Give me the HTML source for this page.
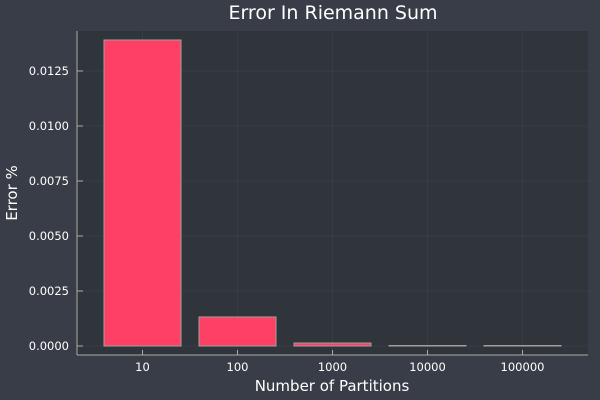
<!DOCTYPE html>
<html><head><meta charset="utf-8"><style>
html,body{margin:0;padding:0;background:#383d47;}
svg{display:block;font-family:"DejaVu Sans","Liberation Sans",sans-serif;}
</style></head><body>
<svg id="chart" width="600" height="400">
<rect x="0" y="0" width="600" height="400" fill="#383d47"/>
<rect x="77" y="31" width="511" height="324" fill="#30343b"/>
<text x="333" y="19" text-anchor="middle" font-size="19" fill="#fff">Error In Riemann Sum</text>
<text x="332" y="391" text-anchor="middle" font-size="15" fill="#fff">Number of Partitions</text>
<text x="17" y="193" text-anchor="middle" font-size="15" fill="#fff" transform="rotate(-90 17 193)">Error %</text>
<g id="grid"></g><g id="bars"></g><g id="axes"></g>
</svg>
<script>
const categories = ["10","100","1000","10000","100000"];
const values = [0.01391, 0.00132, 0.000136, 0.0000136, 0.0000014];
const yTicks = [0, 0.0025, 0.005, 0.0075, 0.01, 0.0125];
const yTickLabels = ["0.0000","0.0025","0.0050","0.0075","0.0100","0.0125"];
const NS="http://www.w3.org/2000/svg";
const pL=77,pR=588,pT=31,pB=355;
const yS=v=>346-v*22000;
const xS=i=>142.5+i*95;
const bw=77;
function mk(t,a,p){const e=document.createElementNS(NS,t);for(const k in a)e.setAttribute(k,a[k]);p.appendChild(e);return e;}
const grid=document.getElementById('grid'),bars=document.getElementById('bars'),axes=document.getElementById('axes');
yTicks.forEach((v,i)=>{
  const g=mk('line',{x1:pL,x2:pR,y1:yS(v),y2:yS(v),stroke:'#ffffff',"stroke-opacity":0.045,"stroke-width":1},grid);
  
  
  const t=mk('line',{x1:pL,x2:pL+6,y1:yS(v),y2:yS(v),stroke:'#aaa'},axes);
  
  
  const l=mk('text',{x:pL-8,y:yS(v)+4,"text-anchor":"end","font-size":11.5,fill:'#fff'},axes);
  l.textContent=yTickLabels[i];
  
  
});
categories.forEach((c,i)=>{
  const g=mk('line',{x1:xS(i),x2:xS(i),y1:pT,y2:pB,stroke:'#ffffff',"stroke-opacity":0.045},grid);
  
  
  const h=Math.max(yS(0)-yS(values[i]),0.5);
  const b=mk('rect',{x:xS(i)-bw/2,y:yS(0)-h,width:bw,height:h,fill:'#ff4065',stroke:'#a0a0a0',"stroke-width":1},bars);
  
  
  const t=mk('line',{x1:xS(i),x2:xS(i),y1:pB,y2:pB-5,stroke:'#aaa'},axes);
  
  
  const l=mk('text',{x:xS(i),y:pB+16,"text-anchor":"middle","font-size":11.5,fill:'#fff'},axes);
  l.textContent=c;
  
  
});
const ax=mk('line',{x1:pL,x2:pL,y1:pT,y2:pB,stroke:'#aaa'},axes);


const bx=mk('line',{x1:pL,x2:pR,y1:pB,y2:pB,stroke:'#aaa'},axes);


</script>
</body></html>
